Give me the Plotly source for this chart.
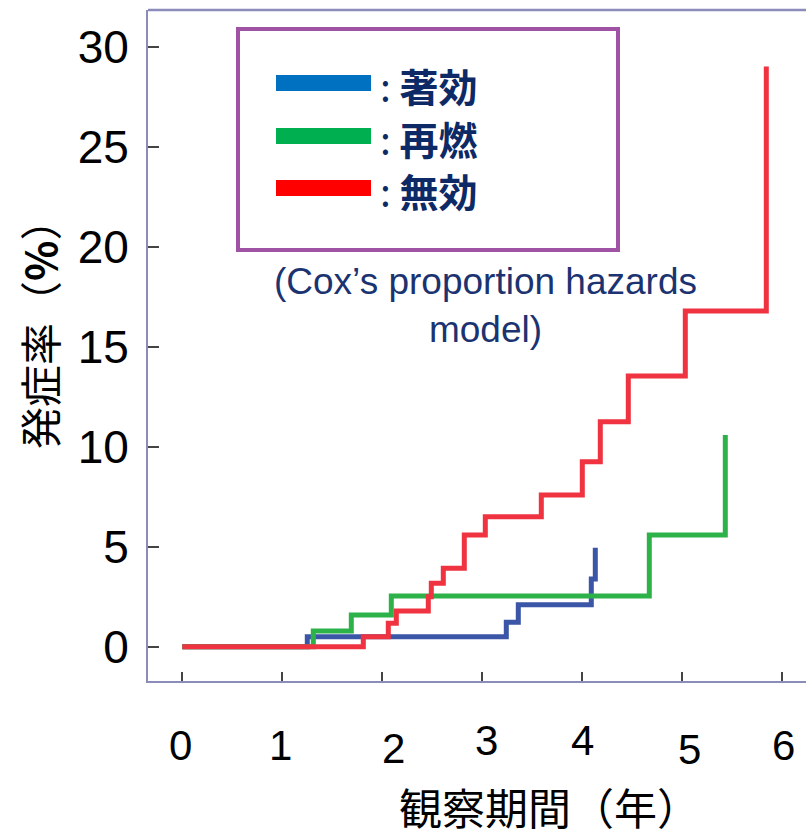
import plotly.graph_objects as go

# step data (years, %)
blue_t = [0, 1.25, 3.24, 3.36, 4.09, 4.13]
blue_v = [0, 0.5, 1.22, 2.1, 3.38, 4.95]

green_t = [0, 1.31, 1.69, 2.09, 4.67, 5.43]
green_v = [0, 0.78, 1.58, 2.53, 5.58, 10.58]

red_t = [0, 1.81, 2.06, 2.14, 2.46, 2.49, 2.61, 2.82, 3.03, 3.59, 4.0, 4.18, 4.46, 5.03, 5.84]
red_v = [0, 0.5, 1.17, 1.78, 2.5, 3.17, 3.92, 5.58, 6.5, 7.58, 9.25, 11.25, 13.53, 16.78, 29.0]

x_ticks = [0, 1, 2, 3, 4, 5, 6]
x_labels = ['0', '1', '2', '3', '4', '5', '6']
y_ticks = [0, 5, 10, 15, 20, 25, 30]

legend_names = ['著効', '再燃', '無効']
legend_colors = ['#0070C0', '#00B050', '#FF0000']

FONT = 'Liberation Sans, Arial, Noto Sans CJK JP'
CJK = 'Noto Sans CJK JP, Liberation Sans'

fig = go.Figure()
for t, v, c in [(blue_t, blue_v, '#3B56A6'),
                (green_t, green_v, '#2DB24A'),
                (red_t, red_v, '#EF3340')]:
    fig.add_trace(go.Scatter(x=t, y=v, mode='lines', line=dict(color=c, width=5, shape='hv'),
                             showlegend=False, hoverinfo='skip'))

axis_col = '#8C8CBA'
fig.update_layout(
    width=806, height=837,
    margin=dict(l=148, r=0, t=10, b=156),
    paper_bgcolor='white', plot_bgcolor='white',
    font=dict(family=FONT, color='black'),
    xaxis=dict(range=[-0.343, 6.237], tickvals=x_ticks, showticklabels=False,
               ticks='inside', ticklen=9, tickwidth=1.5, tickcolor='#444',
               showline=True, linecolor=axis_col, linewidth=2,
               showgrid=False, zeroline=False),
    yaxis=dict(range=[-1.715, 31.83], tickvals=y_ticks,
               ticks='inside', ticklen=11, tickwidth=1.5, tickcolor='#444',
               tickfont=dict(size=46, family=FONT), ticklabelstandoff=8,
               showline=True, linecolor=axis_col, linewidth=2,
               showgrid=False, zeroline=False),
)


def px(xp):
    return (xp - 148) / 658


def py(yp):
    return (681 - yp) / 671


# top frame line (the right spine lies outside the picture)
fig.add_shape(type='line', xref='paper', yref='paper', x0=0, x1=1.02, y0=1, y1=1,
              line=dict(color=axis_col, width=2.5))

# staggered x tick labels
label_dx = [-2, -2, 11, 4, 0, 7, 1]
label_y = [745, 745, 748, 740, 740, 750, 745]
for tv, lab, dx, ly in zip(x_ticks, x_labels, label_dx, label_y):
    fig.add_annotation(x=tv, xref='x', y=py(ly), yref='paper', text=lab,
                       xanchor='center', yanchor='middle', xshift=dx, showarrow=False,
                       font=dict(size=42, family=FONT, color='black'))

# axis titles
fig.add_annotation(x=px(549), y=py(806), xref='paper', yref='paper',
                   text='観察期間（年）', showarrow=False, xanchor='center', yanchor='middle',
                   font=dict(size=43, family=CJK, color='black'))
fig.add_annotation(x=px(38), y=py(324), xref='paper', yref='paper',
                   text='発症率（<b>%</b>）', textangle=-90, showarrow=False,
                   xanchor='center', yanchor='middle',
                   font=dict(size=42, family=CJK, color='black'))

# hand drawn legend box
fig.add_shape(type='rect', xref='paper', yref='paper',
              x0=px(238), x1=px(618), y0=py(250), y1=py(29),
              line=dict(color='#A052A5', width=4), fillcolor='rgba(0,0,0,0)')
row_y = [83, 136, 188]
for name, col, ry in zip(legend_names, legend_colors, row_y):
    fig.add_shape(type='line', xref='paper', yref='paper',
                  x0=px(276), x1=px(371), y0=py(ry), y1=py(ry),
                  line=dict(color=col, width=16))
    fig.add_annotation(x=px(378), y=py(ry + 2), xref='paper', yref='paper',
                       xanchor='left', yanchor='middle', showarrow=False,
                       text=': <b>' + name + '</b>',
                       font=dict(size=39, family=CJK, color='#0D2A66'))

fig.add_annotation(x=px(485), y=py(305), xref='paper', yref='paper',
                   xanchor='center', yanchor='middle',
                   text='(Cox’s proportion hazards<br>model)', showarrow=False,
                   font=dict(size=37, family=FONT, color='#1B3370'))

fig.write_html('out.html', config={'displayModeBar': False},
               post_script="document.body.style.margin='0';")
